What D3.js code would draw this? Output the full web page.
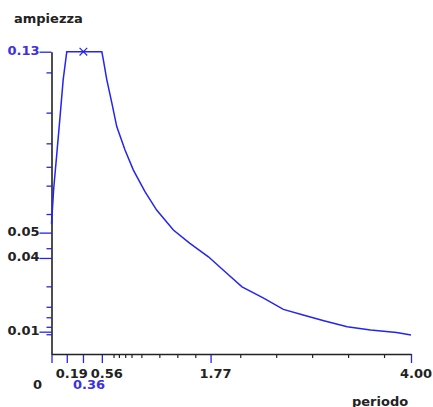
<!DOCTYPE html>
<html>
<head>
<meta charset="utf-8">
<script src="https://cdn.jsdelivr.net/npm/d3@7"></script>
<style>
  body { margin: 0; background: #fff; }
  text { font-family: "DejaVu Sans", Verdana, sans-serif; font-weight: bold; font-size: 13px; }
</style>
</head>
<body>
<div class="chart"></div>
<script>
// spectrum (periodo in s, ampiezza)
var periodo = [0, 0.025, 0.06, 0.095, 0.13, 0.17, 0.35, 0.56, 0.577, 0.615, 0.67, 0.726, 0.818,
  0.911, 1.04, 1.17, 1.356, 1.54, 1.746, 1.95, 2.12, 2.36, 2.58, 2.80, 3.03, 3.29, 3.55, 3.84, 4.0];
var ampiezza = [0.056, 0.0714, 0.0865, 0.102, 0.118, 0.13, 0.13, 0.13, 0.1265, 0.118, 0.1082, 0.0978, 0.0877,
  0.0791, 0.0698, 0.0619, 0.0533, 0.0476, 0.0418, 0.0347, 0.0289, 0.024, 0.0192, 0.0168, 0.0143, 0.0117, 0.0103, 0.0092, 0.0082];

// x axis ticks
var xMajor = [0, 0.17, 0.35, 0.56, 1.77, 4.0];
var xMajorLabels = ["0", "0.19", "0.36", "0.56", "1.77", "4.00"];
var xMinor = [0.69, 0.75, 0.82, 0.89, 1.0, 1.2, 1.4, 1.6, 2.1, 2.5, 2.9, 3.3, 3.7];

// y axis ticks
var yMajor = [0.13, 0.0522, 0.0413, 0.0096];
var yMajorLabels = ["0.13", "0.05", "0.04", "0.01"];
var yMinor = [0.1211, 0.1038, 0.0906, 0.0805, 0.0724, 0.0602, 0.0455, 0.0291, 0.0203, 0.0158, 0.0117, 0.0085];

// peak marker
var peakT = [0.355];
var peakA = [0.13];

var svgWidth = 433;
var svgHeight = 407;
var blue = "#2424f4";
var labelBlue = "#3b30e6";
var dark = "#222";

var svg = d3.select(".chart").append("svg")
  .attr("width", svgWidth)
  .attr("height", svgHeight);

var x = d3.scaleLinear().domain([0, 4]).range([51.5, 411]);
var y = d3.scaleLinear().domain([0, 0.13]).range([354, 51.7]);

// y axis: minor ticks, major ticks, then the black axis line
var yMin = svg.append("g").attr("transform", "translate(" + x(0) + ",0)")
  .call(d3.axisLeft(y).tickValues(yMinor).tickSize(5).tickFormat(""));
yMin.select(".domain").remove();
yMin.selectAll("line").attr("stroke", blue).attr("stroke-width", 1.3);

var yMaj = svg.append("g").attr("transform", "translate(" + x(0) + ",0)")
  .call(d3.axisLeft(y).tickValues(yMajor).tickSize(12).tickPadding(0)
    .tickFormat(function(d, i) { return yMajorLabels[i]; }));
yMaj.select(".domain").remove();
yMaj.selectAll("line").attr("stroke", blue).attr("stroke-width", 1.3);
yMaj.selectAll("text")
  .attr("dy", "0.22em")
  .attr("font-size", null)
  .attr("font-family", null)
  .attr("fill", function(d, i) { return i === 0 ? labelBlue : dark; });

// x axis
var xMin = svg.append("g").attr("transform", "translate(0," + y(0) + ")")
  .call(d3.axisBottom(x).tickValues(xMinor).tickSize(4).tickFormat(""));
xMin.select(".domain").remove();
xMin.selectAll("line").attr("stroke", dark).attr("stroke-width", 1.2);

var xMaj = svg.append("g").attr("transform", "translate(0," + y(0) + ")")
  .call(d3.axisBottom(x).tickValues(xMajor).tickSize(9).tickPadding(6)
    .tickFormat(function(d, i) { return xMajorLabels[i]; }));
xMaj.select(".domain").remove();
xMaj.selectAll("line").attr("stroke", blue).attr("stroke-width", 1.3);
xMaj.selectAll("text")
  .attr("font-size", null)
  .attr("font-family", null)
  .attr("fill", function(d, i) { return i === 2 ? labelBlue : dark; })
  .attr("dx", function(d, i) { return i === 0 ? -14.5 : (i === 2 ? 5.5 : 4.5); })
  .attr("dy", function(d, i) { return (i === 0 || i === 2) ? "1.5em" : "0.71em"; });

// black axis lines
svg.append("g").attr("transform", "translate(" + x(0) + ",0)")
  .call(d3.axisLeft(y).tickValues([]).tickSizeOuter(0))
  .select(".domain").attr("stroke", dark).attr("stroke-width", 1.6);
svg.append("g").attr("transform", "translate(0," + y(0) + ")")
  .call(d3.axisBottom(x).tickValues([]).tickSizeOuter(0))
  .select(".domain").attr("stroke", dark).attr("stroke-width", 1.6);

// spectrum curve
var line = d3.line()
  .x(function(d) { return x(d[0]); })
  .y(function(d) { return y(d[1]); });

svg.append("path")
  .datum(d3.zip(periodo, ampiezza))
  .attr("fill", "none")
  .attr("stroke", blue)
  .attr("stroke-width", 1.5)
  .attr("d", line);

// x marker at the peak
var mk = svg.append("g")
  .selectAll("path")
  .data(d3.zip(peakT, peakA))
  .enter()
  .append("path")
  .attr("transform", function(d) { return "translate(" + x(d[0]) + "," + y(d[1]) + ")"; })
  .attr("d", d3.symbol(d3.symbolX, 40))
  .attr("fill", "none")
  .attr("stroke", blue)
  .attr("stroke-width", 1.2);

// axis titles
svg.append("text")
  .attr("x", 14)
  .attr("y", 23)
  .attr("fill", dark)
  .text("ampiezza");

svg.append("text")
  .attr("x", 352)
  .attr("y", 405.5)
  .attr("fill", dark)
  .text("periodo");
</script>
</body>
</html>
